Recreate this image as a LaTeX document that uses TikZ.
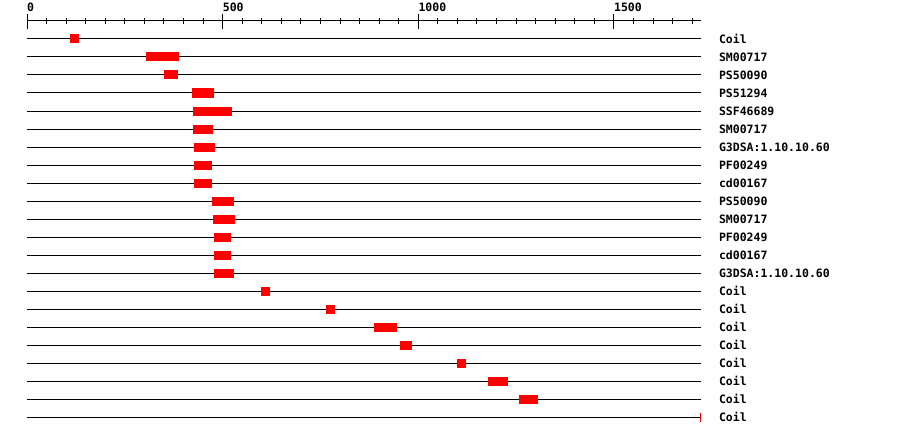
\documentclass[tikz,border=0pt]{standalone}
\usepackage{fontspec}
\setmonofont{DejaVu Sans Mono}
\usetikzlibrary{positioning}
\tikzset{
    track/.style = {draw, line width=1pt},
    hit/.style = {fill=red, draw=none},
    tickline/.style = {line width=1pt},
    lbl/.style = {inner sep=0pt, font=\ttfamily\bfseries\fontsize{11.5}{12}\selectfont},
}

\begin{document}
\begin{tikzpicture}[x=1pt, y=-1pt]
    \useasboundingbox (0,0) rectangle (900,436);
    \begin{scope}[xshift=27pt, x=0.3913pt]
        % ruler
        \coordinate (r0) at (0,21);
        \coordinate (rend) at (1722,21);
        \draw[tickline] (r0) -- (rend);
        \foreach \t in {0,50,...,1700} \draw[tickline] (\t,18) -- (\t,24);
        \foreach \t in {0,500,1000,1500} {
            \draw[tickline] (\t,14) -- (\t,29);
            \node[lbl, anchor=base west] (num\t) at (\t,12) {\t};
        }
        % rows with hits
        \foreach \dom/\ds/\de [count=\i] in {Coil/110/133, SM00717/304/388, PS50090/350/386,
                PS51294/422/478, SSF46689/424/524, SM00717/424/475, G3DSA:1.10.10.60/427/480,
                PF00249/427/473, cd00167/427/473, PS50090/473/529, SM00717/475/532,
                PF00249/478/521, cd00167/478/521, G3DSA:1.10.10.60/478/529, Coil/598/621,
                Coil/764/787, Coil/887/946, Coil/953/984, Coil/1099/1122, Coil/1178/1229,
                Coil/1257/1306} {
            \pgfmathsetmacro\y{21+18*\i}
            \coordinate (start\i) at (0,\y);
            \coordinate (end\i) at (1722,\y);
            \draw[track] (start\i) -- (end\i);
            \fill[hit] (\ds,\y-4.5) rectangle (\de,\y+4.5);
            \node[lbl, right=18pt of end\i] (row\i) {\dom};
        }
        % last row
        \coordinate (start22) at (0,417);
        \coordinate (end22) at (1722,417);
        \draw[track] (start22) -- (end22);
        \draw[tickline, red] (end22) ++(0,-4.5) -- ++(0,9);
        \node[lbl, right=18pt of end22] (row22) {Coil};
    \end{scope}
\end{tikzpicture}
\end{document}
